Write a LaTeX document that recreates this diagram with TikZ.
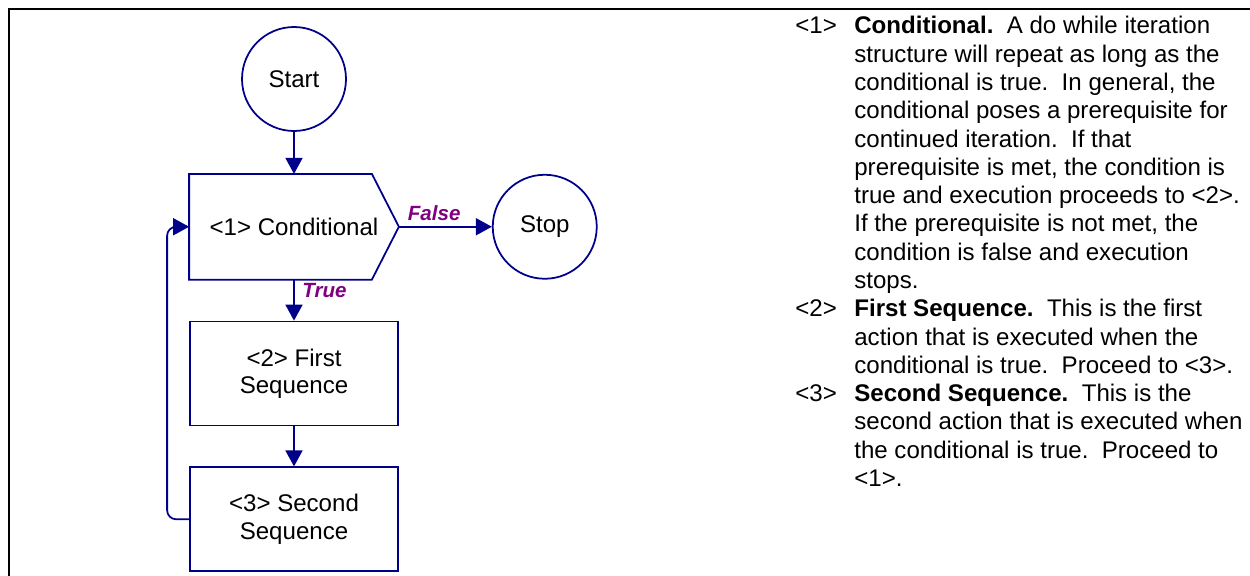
\documentclass[tikz,border=0pt]{standalone}
\usepackage{fontspec}
\setmainfont{Liberation Sans}
\usepackage{xcolor}
\usetikzlibrary{arrows.meta, positioning}

\definecolor{flowblue}{RGB}{0,0,139}
\definecolor{lblpurple}{RGB}{128,0,128}

\begin{document}
\begin{tikzpicture}[
  terminal/.style={circle, draw=flowblue, line width=1pt, minimum size=2.08cm,
    inner sep=0pt, font=\fontsize{13.7}{15.6}\selectfont},
  process/.style={rectangle, draw=flowblue, line width=1pt, minimum width=4.16cm,
    minimum height=2.08cm, align=center, font=\fontsize{13.7}{15.6}\selectfont},
  decision/.style={process, draw=none},
  flow/.style={-{Triangle[length=0.32cm, width=0.34cm]}, line width=1pt, flowblue},
  lbl/.style={font=\fontsize{11.7}{13}\selectfont\bfseries\itshape,
    text=lblpurple, inner sep=0pt},
  notes/.style={anchor=north west, inner sep=0pt,
    font=\fontsize{13.7}{16.1}\selectfont},
]
\useasboundingbox (0,0) rectangle (25,-11.52);
% ====== FRAME ======
\draw[line width=1.5pt] (0.18,-11.6) -- (0.18,-0.18) -- (25.1,-0.18);
%
% ====== FLOWCHART ======
\node[terminal] (start) at (5.88,-1.58) {Start};
\node[decision, below=0.84cm of start] (cond) {<1> Conditional};
\draw[flowblue, line width=1pt] (cond.north west)
  -- ([xshift=-0.54cm]cond.north east) -- (cond.east)
  -- ([xshift=-0.54cm]cond.south east) -- (cond.south west) -- cycle;
\node[terminal, right=1.86cm of cond] (stop) {Stop};
\node[process, below=0.82cm of cond] (seq1) {<2> First\\Sequence};
\node[process, below=0.8cm of seq1] (seq2) {<3> Second\\Sequence};
\draw[flow] (start) -- (cond);
\draw[flow] (cond) -- node[lbl, above=0.1cm, pos=0.38] {False} (stop);
\draw[flow] (cond) -- node[lbl, right=0.15cm, pos=0.27] {True} (seq1);
\draw[flow] (seq1) -- (seq2);
\draw[flow, rounded corners=0.18cm] (seq2.west) -- ++(-0.44,0) |- (cond.west);
%
% ====== NOTES ======
\node[notes] (desc) at (15.9,-0.274) {%
  \begin{tabular}{@{}p{1.18cm}@{}l@{}}
  <1> & \textbf{Conditional.}\ \ A do while iteration \\
      & structure will repeat as long as the \\
      & conditional is true.\ \ In general, the \\
      & conditional poses a prerequisite for \\
      & continued iteration.\ \ If that \\
      & prerequisite is met, the condition is \\
      & true and execution proceeds to <2>. \\
      & If the prerequisite is not met, the \\
      & condition is false and execution \\
      & stops. \\
  <2> & \textbf{First Sequence.}\ \ This is the first \\
      & action that is executed when the \\
      & conditional is true.\ \ Proceed to <3>. \\
  <3> & \textbf{Second Sequence.}\ \ This is the \\
      & second action that is executed when \\
      & the conditional is true.\ \ Proceed to \\
      & <1>.
  \end{tabular}};
\end{tikzpicture}
\end{document}
